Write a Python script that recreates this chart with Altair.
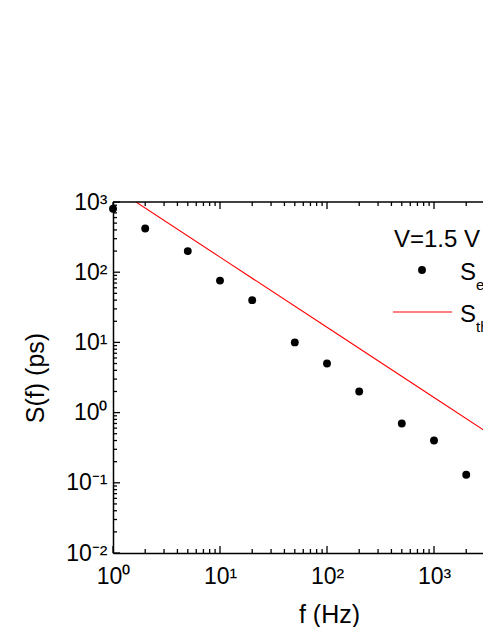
import altair as alt
import pandas as pd

# ---- data ----
f_exp = [1, 2, 5, 10, 20, 50, 100, 200, 500, 1000, 2000]
s_exp = [800, 420, 200, 76, 40, 10, 5.0, 2.0, 0.70, 0.40, 0.13]
f_th = [1, 10, 100, 1000, 3390]
s_th = [1640, 164, 16.4, 1.64, 0.484]

x_major = [1, 10, 100, 1000]
x_major_labels = ["10⁰", "10¹", "10²", "10³"]
y_major = [0.01, 0.1, 1, 10, 100, 1000]
y_major_labels = ["10⁻²", "10⁻¹", "10⁰", "10¹", "10²", "10³"]
X_MAX = 2870
x_minor = [m * d for d in [1, 10, 100, 1000] for m in range(2, 10) if m * d < X_MAX]
y_minor = [m * d for d in [0.01, 0.1, 1, 10, 100] for m in range(2, 10)]

legend_title = "V=1.5 V"
legend_main = ["S", "S"]
legend_sub = ["exp", "theory"]

X_DOMAIN = [1, X_MAX]
Y_DOMAIN = [0.01, 1000]
W, H = 370, 351
FONT = "Liberation Sans"
LX = -8  # legend shift


def label_expr(vals, labels):
    expr = "''"
    for v, l in zip(reversed(vals), reversed(labels)):
        expr = f"(abs(datum.value - {v}) < {v} * 1e-6) ? '{l}' : ({expr})"
    return expr


xscale = alt.Scale(type="log", domain=X_DOMAIN, nice=False)
yscale = alt.Scale(type="log", domain=Y_DOMAIN, nice=False)

xaxis = alt.Axis(
    values=x_major, labelExpr=label_expr(x_major, x_major_labels),
    ticks=False, grid=False, domainColor="black", domainWidth=1.5,
    labelFont=FONT, labelFontSize=23, labelColor="black", labelPadding=12,
    labelFlush=False, labelOverlap=False,
    title="f (Hz)", titleFont=FONT, titleFontSize=25, titleFontWeight="normal",
    titleColor="black", titleX=216, titleY=69, titleBaseline="alphabetic",
    titleAlign="center",
)
yaxis = alt.Axis(
    values=y_major, labelExpr=label_expr(y_major, y_major_labels),
    ticks=False, grid=False, domainColor="black", domainWidth=1.5,
    labelFont=FONT, labelFontSize=23, labelColor="black", labelPadding=6,
    labelFlush=False, labelOverlap=False,
    title="S(f) (ps)", titleFont=FONT, titleFontSize=25, titleFontWeight="normal",
    titleColor="black", titleX=-78, titleY=H / 2, titleBaseline="middle",
    titleAlign="center", titleAngle=270,
)

X = lambda: alt.X("f:Q", scale=xscale, axis=xaxis)
Y = lambda: alt.Y("S:Q", scale=yscale, axis=yaxis)

exp_df = pd.DataFrame({"f": f_exp, "S": s_exp})
th_df = pd.DataFrame({"f": f_th, "S": s_th})

points = alt.Chart(exp_df).mark_circle(size=62, color="black", opacity=1).encode(x=X(), y=Y())
line = alt.Chart(th_df).mark_line(color="#ff0000", strokeWidth=1.1, clip=True).encode(x=X(), y=Y())

# inward ticks
xmaj = pd.DataFrame({"f": x_major})
xmin = pd.DataFrame({"f": x_minor})
ymaj = pd.DataFrame({"S": y_major})
ymin = pd.DataFrame({"S": y_minor})
tk = dict(color="black", strokeWidth=1.3)
ticks = [
    alt.Chart(xmaj).mark_rule(**tk).encode(x=X(), y=alt.value(H), y2=alt.value(H - 7)),
    alt.Chart(xmin).mark_rule(**tk).encode(x=X(), y=alt.value(H), y2=alt.value(H - 4)),
    alt.Chart(xmaj).mark_rule(**tk).encode(x=X(), y=alt.value(0), y2=alt.value(7)),
    alt.Chart(xmin).mark_rule(**tk).encode(x=X(), y=alt.value(0), y2=alt.value(4)),
    alt.Chart(ymaj).mark_rule(**tk).encode(y=Y(), x=alt.value(0), x2=alt.value(7)),
    alt.Chart(ymin).mark_rule(**tk).encode(y=Y(), x=alt.value(0), x2=alt.value(4)),
]
one = pd.DataFrame({"t": [legend_title]})
top_border = alt.Chart(one).mark_rule(color="black", strokeWidth=1.5).encode(
    x=alt.value(0), x2=alt.value(W), y=alt.value(0))

# legend
txt = dict(align="left", baseline="alphabetic", font=FONT, color="black")
leg_title = alt.Chart(one).mark_text(fontSize=24, **txt).encode(
    text="t:N", x=alt.value(289 + LX), y=alt.value(45))
leg_dot = alt.Chart(one).mark_circle(size=62, color="black", opacity=1).encode(
    x=alt.value(317 + LX), y=alt.value(68))
leg_line = alt.Chart(one).mark_rule(color="#ff0000", strokeWidth=1.1).encode(
    x=alt.value(288 + LX), x2=alt.value(347 + LX), y=alt.value(110))
leg_s1 = alt.Chart(pd.DataFrame({"t": [legend_main[0]]})).mark_text(fontSize=24, **txt).encode(
    text="t:N", x=alt.value(355 + LX), y=alt.value(78))
leg_s2 = alt.Chart(pd.DataFrame({"t": [legend_main[1]]})).mark_text(fontSize=24, **txt).encode(
    text="t:N", x=alt.value(355 + LX), y=alt.value(120))
leg_sub1 = alt.Chart(pd.DataFrame({"t": [legend_sub[0]]})).mark_text(fontSize=15, **txt).encode(
    text="t:N", x=alt.value(371 + LX), y=alt.value(88))
leg_sub2 = alt.Chart(pd.DataFrame({"t": [legend_sub[1]]})).mark_text(fontSize=15, **txt).encode(
    text="t:N", x=alt.value(371 + LX), y=alt.value(130))

chart = alt.layer(
    line, points, *ticks, top_border,
    leg_title, leg_dot, leg_line, leg_s1, leg_s2, leg_sub1, leg_sub2,
).properties(
    width=W, height=H,
    autosize=alt.AutoSizeParams(type="none"),
    padding={"left": 105, "top": 194, "right": 0, "bottom": 74},
    background="white",
).configure_view(stroke=None)

chart.save("out.html", embed_options={"renderer": "svg", "actions": False})
